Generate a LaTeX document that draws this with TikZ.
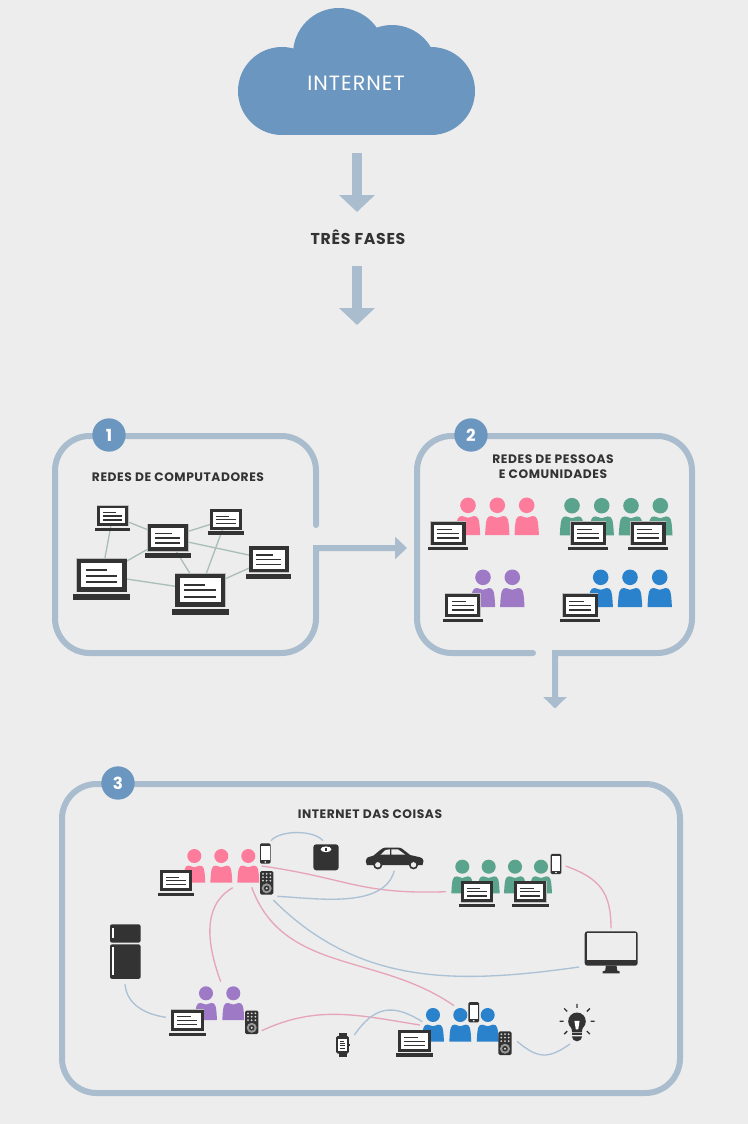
\documentclass[tikz,border=0pt]{standalone}
\usepackage{fontspec}
\setmainfont{Poppins}
\newfontfamily\titlefont{Poppins}[LetterSpace=4.5]
\newfontfamily\cloudfont{Poppins}[LetterSpace=5]
\usetikzlibrary{arrows.meta}

\definecolor{pagebg}{HTML}{EDEDED}
\definecolor{cloudblue}{HTML}{6B96BF}
\definecolor{framegray}{HTML}{A9BDCE}
\definecolor{darkicon}{HTML}{333333}
\definecolor{linkgray}{HTML}{A9BFB6}
\definecolor{pinkline}{HTML}{E6A5B9}
\definecolor{blueline}{HTML}{ABC1D5}
\definecolor{pinkperson}{HTML}{FD7C9C}
\definecolor{greenperson}{HTML}{5AA38C}
\definecolor{purpleperson}{HTML}{9E79C6}
\definecolor{blueperson}{HTML}{2A82CC}

\tikzset{
  title/.style={font=\titlefont\bfseries\fontsize{9.2}{11.2}\selectfont,text=darkicon,align=center,inner sep=0pt},
  bigtitle/.style={font=\titlefont\bfseries\fontsize{11.8}{14}\selectfont,text=darkicon,inner sep=0pt},
  numdisc/.style={circle,fill=cloudblue,minimum size=25pt,inner sep=0pt,text=white,font=\bfseries\fontsize{12.5}{14}\selectfont},
  frame/.style={draw=framegray,line width=4.5pt,line cap=round},
  bigarrow/.style={draw=framegray,line width=7.5pt,-{Triangle[width=26.25pt,length=12.75pt]}},
  link/.style={draw=linkgray,line width=1pt},
  pinklink/.style={draw=pinkline,line width=1pt},
  bluelink/.style={draw=blueline,line width=1pt},
  every pic/.style={yscale=-1},
  pics/laptop/.style={code={
    \fill[black!25] (-25.6,-17.1) rectangle (25.6,17.1);
    \fill[darkicon] (-25,-16.5) rectangle (25,16.5);
    \fill[white] (-20.5,-12) rectangle (20.5,12);
    \fill[darkicon] (-16,-6.2) rectangle (5,-4.4);
    \fill[darkicon] (-16,-0.6) rectangle (15.5,1.2);
    \fill[darkicon] (-16,5.8) rectangle (15.5,7.6);
    \fill[darkicon] (-28.5,19) rectangle (28.5,24.5);
  }},
  pics/person/.style={code={
    \fill[#1] (0,0) circle (7.8);
    \fill[#1] (-12.2,29.7) .. controls (-11.8,22) and (-11.5,17) .. (-10.5,14) .. controls (-10,11.5) and (-8,10.7) .. (-6,10.7)
      .. controls (-3,11) and (-2,12.5) .. (0,12.5) .. controls (2,12.5) and (3,11) .. (6,10.7)
      .. controls (8,10.7) and (10,11.5) .. (10.5,14) .. controls (11.5,17) and (11.8,22) .. (12.2,29.7) -- cycle;
  }},
  pics/phone/.style={code={
    \fill[darkicon,rounded corners=1pt] (-5.3,-10.2) rectangle (5.3,10.2);
    \fill[white] (-4.2,-7.6) rectangle (4.2,6.8);
    \fill[white] (0,8.5) circle (0.9);
  }},
  pics/remote/.style={code={
    \fill[darkicon,rounded corners=1.2pt] (-6.7,-11.8) rectangle (6.7,11.8);
    \foreach \rx in {-3.7,0,3.7}
      \foreach \ry in {-9,-5.6,-2.1} \fill[black!15] (\rx,\ry) circle (1);
    \fill[black!40] (0,5.5) circle (5);
    \fill[darkicon] (0,5.5) circle (2.8);
    \fill[black!15] (0,5.5) circle (1.2);
  }},
  pics/weighing/.style={code={
    \fill[darkicon,rounded corners=2.2pt] (-12.7,-13) rectangle (12.7,13);
    \fill[white] (0,-8) ellipse (5.4 and 2.9);
    \fill[darkicon] (-0.6,-9.6) rectangle (0.6,-6.8);
  }},
  pics/watch/.style={code={
    \fill[darkicon] (-4,-11.8) rectangle (4,11.8);
    \fill[darkicon,rounded corners=1pt] (-6.3,-8.7) rectangle (6.3,8.7);
    \fill[darkicon] (6,-1) rectangle (7.4,1);
    \fill[white] (-4.3,-6.3) rectangle (4.3,6.3);
    \fill[darkicon] (-2.8,-4) rectangle (1,-2.8);
    \fill[darkicon] (-2.8,-1.6) rectangle (2.8,-0.6);
    \fill[darkicon] (-2.8,0.6) rectangle (2.8,1.6);
    \fill[darkicon] (-2.8,2.8) rectangle (2.8,3.8);
  }},
  pics/bulb/.style={code={
    \fill[darkicon] (0,0) circle (8.8);
    \fill[darkicon] (-6,5) -- (6,5) -- (4.8,11) -- (-4.8,11) -- cycle;
    \fill[darkicon] (-5.4,12) rectangle (5.4,13.8);
    \fill[darkicon] (-5.2,15) -- (5.2,15) .. controls (5,18) and (2.5,20) .. (0,20) .. controls (-2.5,20) and (-5,18) .. (-5.2,15) -- cycle;
    \fill[white] (-2.6,-0.5) -- (2.6,-0.5) -- (1.2,8) -- (-1.2,8) -- cycle;
    \draw[darkicon,line width=1pt] (0,-13.5) -- (0,-17.5) (13.5,0) -- (17.5,0) (-13.5,0) -- (-17.5,0)
      (9.8,-9.8) -- (12.8,-12.8) (-9.8,-9.8) -- (-12.8,-12.8) (9.8,9.8) -- (12.8,12.8) (-9.8,9.8) -- (-12.8,12.8);
  }},
  pics/car/.style={code={
    \fill[darkicon] (-27.7,6.7) -- (-28.7,2.7) .. controls (-28.5,0) and (-27,-1) .. (-26,-1.2) -- (-21,-2.7) -- (-14.3,-8.3)
      .. controls (-12,-10) and (-10.5,-10.7) .. (-9.3,-10.7) -- (4,-10.7) .. controls (6,-10.7) and (7,-10) .. (8,-9.3)
      -- (15.7,-3.3) -- (25.7,-1) .. controls (27.5,-0.5) and (29,1) .. (29,2.7) -- (28,6.7) -- cycle;
    \fill[pagebg] (-14,-3.6) -- (-9,-8.3) -- (-4.7,-9) -- (-4.7,-3.6) -- cycle;
    \fill[pagebg] (-3.2,-9) -- (3.7,-8.8) -- (10.8,-3.6) -- (-3.2,-3.6) -- cycle;
    \fill[darkicon] (-16.7,6.5) circle (4.6);
    \fill[darkicon] (19,6.5) circle (4.6);
    \fill[pagebg] (-16.7,6.5) circle (2.7);
    \fill[pagebg] (19,6.5) circle (2.7);
  }},
  pics/fridge/.style={code={
    \fill[darkicon,rounded corners=1.5pt] (-15.3,-27.3) rectangle (15.3,-9);
    \fill[darkicon,rounded corners=1.5pt] (-15.3,-7.2) rectangle (15.3,27.3);
    \fill[white] (-13,-23.6) rectangle (-11,-13.3);
    \fill[white] (-13,-4.6) rectangle (-11,23.6);
  }},
  pics/monitor/.style={code={
    \fill[darkicon,rounded corners=2pt] (-26.5,-17.2) rectangle (26.5,17.2);
    \fill[pagebg] (-24.6,-15.3) rectangle (24.6,11.5);
    \fill[darkicon] (-5.3,17) -- (5.3,17) -- (6,22) -- (8.5,23) -- (8.5,24.8) -- (-8.5,24.8) -- (-8.5,23) -- (-6,22) -- cycle;
  }}
}

\begin{document}
\begin{tikzpicture}[x=0.75pt,y=0.75pt,yscale=-1]

\fill[pagebg] (0,0) rectangle (748,1124);

% cloud
\fill[cloudblue] (282,91) circle (44);
\fill[cloudblue] (431,91) circle (44);
\fill[cloudblue] (339,54) circle (46);
\fill[cloudblue] (392,70) circle (45);
\fill[cloudblue] (282,60) rectangle (431,135);
\node (internet) at (356,83) [font=\cloudfont\fontsize{15.5}{18}\selectfont,text=white,inner sep=0pt] {INTERNET};

\node (fases) at (358,237) [bigtitle] {TRÊS FASES};
\coordinate (cloudout) at (357,153);
\coordinate (fasesin) at (357,212);
\coordinate (fasesout) at (357,266);
\coordinate (phasetop) at (357,325);
\draw [bigarrow] (cloudout) -- (fasesin);
\draw [bigarrow] (fasesout) -- (phasetop);

% frames
\coordinate (onestart) at (316,525);
\coordinate (oneout) at (407,548);
\coordinate (twostart) at (533,653);
\coordinate (twoout) at (555,708.5);
\draw [frame,-{Triangle[width=16.5pt,length=9pt]}] (onestart) [rounded corners=26pt] -- (316,436) -- (55,436) -- (55,653) -- (316,653) [sharp corners] -- (316,548) -- (oneout);
\draw [frame,line cap=round,-{Triangle[width=17pt,length=8.5pt]}] (twostart) [rounded corners=26pt] -- (417,653) -- (417,436) -- (692,436) -- (692,653) [sharp corners] -- (555,653) -- (twoout);
\draw [frame,rounded corners=26pt] (62,784) rectangle (680,1093);

\node (num1) at (109,435) [numdisc] {1};
\node (num2) at (471,435) [numdisc] {2};
\node (num3) at (118,783) [numdisc] {3};

\node (title1) at (178,476.7) [title] {REDES DE COMPUTADORES};
\node (title2) at (553,467) [title] {REDES DE PESSOAS\\E COMUNIDADES};
\node (title3) at (370,814) [title] {INTERNET DAS COISAS};

% computers
\coordinate (lap1) at (112.7,515.8);
\coordinate (lap2) at (167.8,537.7);
\coordinate (lap3) at (226.2,519.5);
\coordinate (lap4) at (268.8,559.3);
\coordinate (lap5) at (101.8,575.3);
\coordinate (lap6) at (200.2,590);
\draw [link] (lap1) -- (lap2);
\draw [link] (lap1) -- (lap5);
\draw [link] (lap2) -- (lap3);
\draw [link] (lap2) -- (lap4);
\draw [link] (lap2) -- (lap5);
\draw [link] (lap2) -- (lap6);
\draw [link] (lap3) -- (lap6);
\draw [link] (lap4) -- (lap6);
\draw [link] (lap5) -- (lap6);
\pic [scale=0.62] at (lap1) {laptop};
\pic [scale=0.81] at (lap2) {laptop};
\pic [scale=0.63] at (lap3) {laptop};
\pic [scale=0.79] at (lap4) {laptop};
\pic at (lap5) {laptop};
\pic at (lap6) {laptop};

% communities
\pic at (468,505.3) {person=pinkperson};
\pic at (497.3,505.3) {person=pinkperson};
\pic at (526.7,505.3) {person=pinkperson};
\pic [scale=0.7] at (448,533.3) {laptop};

\pic at (572,505.7) {person=greenperson};
\pic at (601.7,505.7) {person=greenperson};
\pic at (631,505.7) {person=greenperson};
\pic at (660.3,505.7) {person=greenperson};
\pic [scale=0.7] at (588.3,533.3) {laptop};
\pic [scale=0.7] at (648,533.3) {laptop};

\pic at (483,577.3) {person=purpleperson};
\pic at (512.3,577.3) {person=purpleperson};
\pic [scale=0.7] at (462.7,605.3) {laptop};

\pic at (600.7,577.3) {person=blueperson};
\pic at (630,577.3) {person=blueperson};
\pic at (659.7,577.3) {person=blueperson};
\pic [scale=0.7] at (580.3,605.3) {laptop};

% things
\coordinate (phonepink) at (265.3,853.5);
\coordinate (remotepink) at (266.7,882.8);
\coordinate (scaleicon) at (326,857.3);
\coordinate (caricon) at (394.5,858.3);
\coordinate (fridgeicon) at (125.3,951.6);
\coordinate (remotepurple) at (251.7,1022.3);
\coordinate (watchicon) at (342.5,1044.8);
\coordinate (phoneblue) at (473.7,1012.2);
\coordinate (remoteblue) at (505,1043.2);
\coordinate (bulbicon) at (577,1021.3);
\coordinate (phonegreen) at (556,864);
\coordinate (monitoricon) at (611.2,948.5);

\coordinate (a1) at (271,840.7);
\coordinate (a2) at (323,840.7);
\coordinate (b1) at (261.7,866);
\coordinate (b2) at (446,891.7);
\coordinate (c1) at (394.3,870.7);
\coordinate (c2) at (277.3,896.3);
\coordinate (d1) at (273.3,900);
\coordinate (d2) at (579,967);
\coordinate (e1) at (251.7,887.3);
\coordinate (e2) at (454,1005.7);
\coordinate (f1) at (232.7,887.7);
\coordinate (f2) at (220.7,981.7);
\coordinate (g1) at (125,984.3);
\coordinate (g2) at (166,1017.3);
\coordinate (h1) at (261.7,1030.7);
\coordinate (h2) at (420,1025);
\coordinate (i1) at (354.3,1035);
\coordinate (i2) at (422.3,1021.7);
\coordinate (j1) at (565.7,866);
\coordinate (j2) at (611,928.3);
\coordinate (k1) at (517,1041.3);
\coordinate (k2) at (570,1044);

\draw [bluelink,out=310,in=230,looseness=0.7] (a1) to (a2);
\draw [pinklink,out=8,in=178,looseness=1.2] (b1) to (b2);
\draw [bluelink,out=105,in=3,looseness=0.85] (c1) to (c2);
\draw [bluelink,out=45,in=172,looseness=1.0] (d1) to (d2);
\draw [pinklink,out=70,in=215,looseness=1.0] (e1) to (e2);
\draw [pinklink,out=150,in=250,looseness=1.0] (f1) to (f2);
\draw [bluelink,out=85,in=188,looseness=1.0] (g1) to (g2);
\draw [pinklink,out=335,in=189,looseness=1.0] (h1) to (h2);
\draw [bluelink,out=305,in=212,looseness=1.3] (i1) to (i2);
\draw [pinklink,out=20,in=270,looseness=1.2] (j1) to (j2);
\draw [bluelink,out=40,in=145,looseness=1.3] (k1) to (k2);

\pic [scale=0.9] at (194.3,856) {person=pinkperson};
\pic [scale=0.9] at (221.3,856) {person=pinkperson};
\pic [scale=0.9] at (248.3,856) {person=pinkperson};
\pic [scale=0.64] at (176,880.5) {laptop};
\pic at (phonepink) {phone};
\pic at (remotepink) {remote};
\pic at (scaleicon) {weighing};
\pic at (caricon) {car};

\pic [scale=0.9] at (462.3,866.7) {person=greenperson};
\pic [scale=0.9] at (488.7,866.7) {person=greenperson};
\pic [scale=0.9] at (515,866.7) {person=greenperson};
\pic [scale=0.9] at (541,866.7) {person=greenperson};
\pic [scale=0.64] at (477,891.7) {laptop};
\pic [scale=0.64] at (530.3,891.7) {laptop};
\pic at (phonegreen) {phone};

\pic at (fridgeicon) {fridge};
\pic at (monitoricon) {monitor};

\pic [scale=0.9] at (206,993.3) {person=purpleperson};
\pic [scale=0.9] at (233.3,993.3) {person=purpleperson};
\pic [scale=0.65] at (187.3,1020.3) {laptop};
\pic at (remotepurple) {remote};

\pic at (watchicon) {watch};

\pic [scale=0.9] at (433,1015) {person=blueperson};
\pic [scale=0.9] at (460.3,1015) {person=blueperson};
\pic [scale=0.9] at (487.7,1015) {person=blueperson};
\pic [scale=0.65] at (414.7,1041) {laptop};
\pic at (phoneblue) {phone};
\pic at (remoteblue) {remote};
\pic at (bulbicon) {bulb};

\end{tikzpicture}
\end{document}
